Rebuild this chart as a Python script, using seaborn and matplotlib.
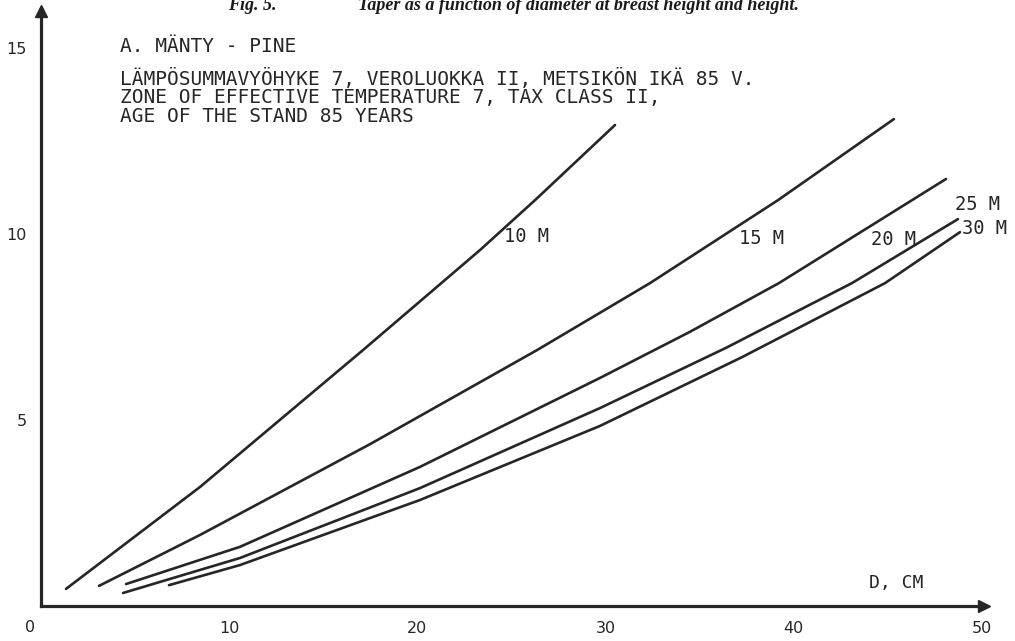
import matplotlib
matplotlib.use("Agg")
import matplotlib.pyplot as plt
import seaborn as sns
import pandas as pd

# Taper (cm) as a function of breast-height diameter D (cm), one curve per tree height
d_10m = [1.33, 8.45, 17.11, 23.33, 26.25, 30.50]
t_10m = [0.46, 3.20, 6.88, 9.57, 10.91, 12.93]

d_15m = [3.08, 8.45, 17.48, 26.36, 32.36, 39.16, 45.32]
t_15m = [0.54, 1.91, 4.35, 6.88, 8.68, 10.91, 13.09]

d_20m = [4.52, 10.57, 20.14, 29.70, 34.48, 39.21, 48.09]
t_20m = [0.59, 1.59, 3.74, 6.13, 7.37, 8.68, 11.48]

d_25m = [4.36, 10.57, 20.14, 29.70, 36.40, 43.09, 48.72]
t_25m = [0.35, 1.29, 3.17, 5.32, 6.94, 8.68, 10.40]

d_30m = [6.80, 10.57, 20.14, 29.70, 37.25, 44.85, 48.83]
t_30m = [0.56, 1.10, 2.85, 4.84, 6.69, 8.68, 10.05]

heights = ["10 M", "15 M", "20 M", "25 M", "30 M"]
x_ticks = [10, 20, 30, 40, 50]
y_ticks = [5, 10, 15]

header_title = "A. MÄNTY - PINE"
header_lines = [
    "LÄMPÖSUMMAVYÖHYKE 7, VEROLUOKKA II, METSIKÖN IKÄ 85 V.",
    "ZONE OF EFFECTIVE TEMPERATURE 7, TAX CLASS II,",
    "AGE OF THE STAND 85 YEARS",
]
fig_number = "Fig. 5."
fig_caption = "Taper as a function of diameter at breast height and height."
x_label = "D, CM"

frames = []
for name, d, t in zip(heights,
                      [d_10m, d_15m, d_20m, d_25m, d_30m],
                      [t_10m, t_15m, t_20m, t_25m, t_30m]):
    frames.append(pd.DataFrame({"D": d, "taper": t, "height": name}))
df = pd.concat(frames, ignore_index=True)

sns.set_theme(style="white")
plt.rcParams["font.family"] = ["DejaVu Sans"]

INK = "#262626"
W, H = 1015, 641
fig = plt.figure(figsize=(W / 100, H / 100), dpi=100)
fig.patch.set_facecolor("white")

# axes placed so that D=0 / taper=0 sits at the lower-left corner of the frame
x0_px, y0_px = 41, 606
px_per_cm, px_per_unit = 18.82, 37.2
xmax, ymax = 50.1, 16.0
ax = fig.add_axes([x0_px / W, (H - y0_px) / H,
                   xmax * px_per_cm / W, ymax * px_per_unit / H])
ax.set_facecolor("white")

sns.lineplot(data=df, x="D", y="taper", hue="height", units="height",
             estimator=None, sort=False, legend=False,
             palette=[INK] * len(heights), linewidth=1.9, ax=ax)
for line in ax.get_lines():
    line.set_solid_joinstyle("round")
    line.set_solid_capstyle("round")

ax.set_xlim(0, xmax)
ax.set_ylim(0, ymax)

for side in ("top", "right"):
    ax.spines[side].set_visible(False)
for side in ("left", "bottom"):
    ax.spines[side].set_linewidth(2.3)
    ax.spines[side].set_color(INK)

# arrow heads on both axes
ax.plot(1, 0, marker=">", ms=8, color=INK, transform=ax.get_yaxis_transform(),
        clip_on=False)
ax.plot(0, 1, marker="^", ms=8, color=INK, transform=ax.get_xaxis_transform(),
        clip_on=False)

ax.set_xticks(x_ticks)
ax.set_xticklabels([str(v) for v in x_ticks])
ax.set_yticks(y_ticks)
ax.set_yticklabels([str(v) for v in y_ticks])
ax.tick_params(axis="both", direction="out", length=7, width=2, color=INK,
               labelcolor=INK, labelsize=11.5)
ax.tick_params(axis="x", pad=4)
ax.tick_params(axis="y", pad=3)
ax.set_xlabel("")
ax.set_ylabel("")

# origin label
ax.text(-0.6, -0.58, "0", ha="center", va="center", fontsize=11.5, color=INK,
        clip_on=False)

# axis title at the end of the D axis
ax.text(44.0, 0.62, x_label, ha="left", va="center", fontsize=13,
        family="DejaVu Sans Mono", color=INK)

# curve labels
label_pos = {
    "10 M": (24.6, 9.92),
    "15 M": (37.1, 9.87),
    "20 M": (44.1, 9.84),
    "25 M": (48.55, 10.78),
    "30 M": (48.95, 10.16),
}
for name in heights:
    x, y = label_pos[name]
    ax.text(x, y, name, ha="left", va="center", fontsize=13.5,
            family="DejaVu Sans Mono", color=INK, clip_on=False)

# header block
mono = dict(family="DejaVu Sans Mono", color=INK, fontsize=14,
            ha="left", va="center")
fig.text(120 / W, 1 - 46 / H, header_title, **mono)
for i, line in enumerate(header_lines):
    fig.text(120 / W, 1 - (78 + 19 * i) / H, line, **mono)

# figure caption, partly running off the top edge
cap = dict(family="Liberation Serif", style="italic", weight="bold",
           fontsize=13, color="#1a1a1a", va="baseline", ha="left")
fig.text(228 / W, 1 - 10 / H, fig_number, **cap)
fig.text(358 / W, 1 - 10 / H, fig_caption, **cap)

fig.savefig("out.png", dpi=100, facecolor="white")
